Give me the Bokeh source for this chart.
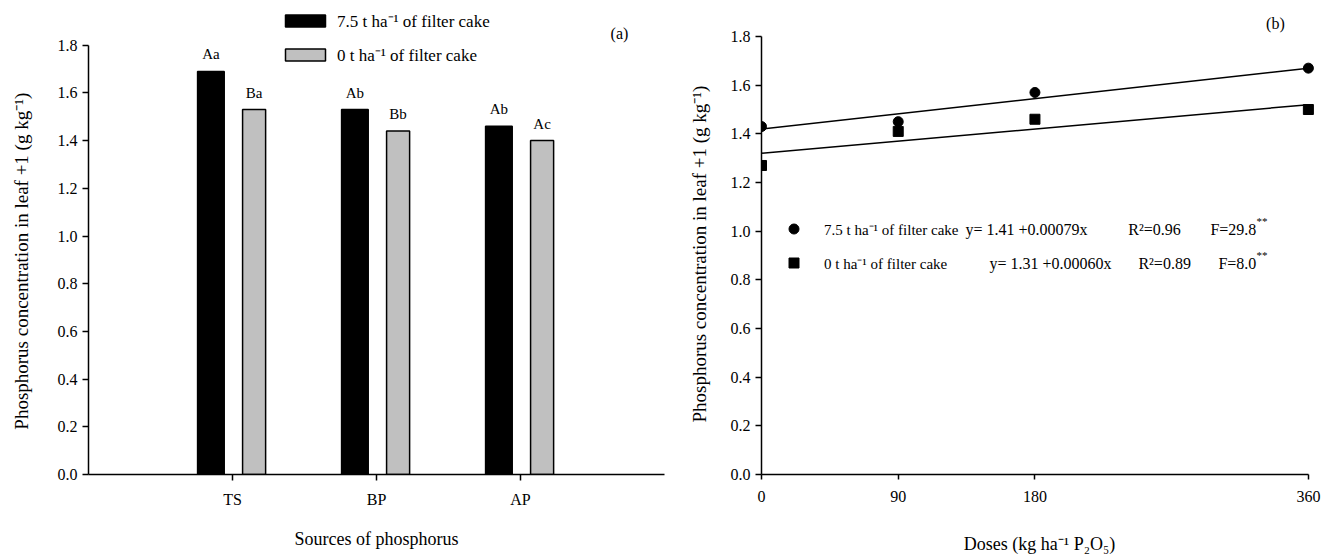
import numpy as np
from bokeh.plotting import figure
from bokeh.layouts import row
from bokeh.models import (FixedTicker, NumeralTickFormatter, Legend, LegendItem,
                          Label, ColumnDataSource, Range1d)
from bokeh.embed import file_html
from bokeh.resources import INLINE
from bokeh.core.properties import value

# ---------------- data ----------------
sources = ["TS", "BP", "AP"]
with_cake = [1.69, 1.53, 1.46]
without_cake = [1.53, 1.44, 1.40]
letters_with = ["Aa", "Ab", "Ab"]
letters_without = ["Ba", "Bb", "Ac"]

doses = [0, 90, 180, 360]
p_with = [1.43, 1.45, 1.57, 1.67]
p_without = [1.27, 1.41, 1.46, 1.50]
fit_x = [0, 360]
fit_with = [1.42, 1.67]
fit_without = [1.32, 1.52]

y_ticks = [0.0, 0.2, 0.4, 0.6, 0.8, 1.0, 1.2, 1.4, 1.6, 1.8]
dose_ticks = [0, 90, 180, 360]

label_with = "7.5 t ha\u207b\u00b9 of filter cake"
label_without = "0 t ha\u207b\u00b9 of filter cake"
eq_with = ["y= 1.41 +0.00079x", "R\u00b2=0.96", "F=29.8", "**"]
eq_without = ["y= 1.31 +0.00060x", "R\u00b2=0.89", "F=8.0", "**"]
y_title = "Phosphorus concentration in leaf +1 (g kg\u207b\u00b9)"

FONT = "Liberation Serif"


def style_axis(ax):
    ax.axis_line_color = "black"
    ax.axis_line_width = 1.5
    ax.major_tick_line_color = "black"
    ax.major_tick_line_width = 1.5
    ax.major_tick_in = 0
    ax.major_tick_out = 6
    ax.minor_tick_line_color = None
    ax.major_label_text_font = FONT
    ax.major_label_text_font_size = "16px"
    ax.major_label_text_color = "black"
    ax.axis_label_text_font = FONT
    ax.axis_label_text_font_size = "18px"
    ax.axis_label_text_font_style = "normal"
    ax.axis_label_text_color = "black"


# ---------------- panel (a) ----------------
p1 = figure(width=680, height=558, x_range=Range1d(-1, 3), y_range=Range1d(0, 1.9875),
            output_backend="svg", toolbar_location=None,
            min_border_left=88, min_border_right=16, min_border_top=0, min_border_bottom=80)
p1.outline_line_color = None
p1.xgrid.grid_line_color = None
p1.ygrid.grid_line_color = None

idx = np.arange(len(sources))
src_w = ColumnDataSource(dict(x=idx - 0.15, top=with_cake, lab=letters_with))
src_o = ColumnDataSource(dict(x=idx + 0.15, top=without_cake, lab=letters_without))
r1 = p1.vbar(x="x", top="top", width=0.185, source=src_w,
             fill_color="black", line_color="black", line_width=1.5)
r2 = p1.vbar(x="x", top="top", width=0.16, source=src_o,
             fill_color="#c0c0c0", line_color="black", line_width=1.5)
for s in (src_w, src_o):
    p1.text(x="x", y="top", text="lab", source=s, text_align="center",
            text_baseline="bottom", y_offset=-9, text_font=value(FONT),
            text_font_size="15px", text_color="black")

xa = p1.xaxis[0]
style_axis(xa)
xa.ticker = FixedTicker(ticks=list(idx))
xa.major_label_overrides = {int(i): s for i, s in zip(idx, sources)}
xa.major_label_standoff = 10
xa.axis_label = "Sources of phosphorus"
xa.axis_label_standoff = 18

ya = p1.yaxis[0]
style_axis(ya)
ya.bounds = (0, 1.8)
ya.ticker = FixedTicker(ticks=y_ticks)
ya.formatter = NumeralTickFormatter(format="0.0")
ya.major_label_standoff = 5
# trailing wide spaces move the centred (rotated) title down to the middle of the 0-1.8 axis
ya.axis_label = y_title + "\u2003\u2003\u2002"
ya.axis_label_text_font_size = "19px"
ya.axis_label_standoff = 23

leg1 = Legend(items=[LegendItem(label=label_with, renderers=[r1]),
                     LegendItem(label=label_without, renderers=[r2])],
              location=(192, 408), padding=0, margin=0, spacing=11,
              glyph_width=50, glyph_height=15, label_height=15, label_standoff=7,
              border_line_color=None, background_fill_alpha=0,
              label_text_font=FONT, label_text_font_size="17px", label_text_color="black")
p1.add_layout(leg1)

p1.add_layout(Label(x=2.6875, y=1.85, text="(a)", text_align="center", text_baseline="middle",
                    text_font=FONT, text_font_size="16px", text_color="black"))

# ---------------- panel (b) ----------------
p2 = figure(width=645, height=558, x_range=Range1d(0, 366), y_range=Range1d(0, 1.948),
            output_backend="svg", toolbar_location=None,
            min_border_left=81, min_border_right=8, min_border_top=0, min_border_bottom=84)
p2.outline_line_color = None
p2.xgrid.grid_line_color = None
p2.ygrid.grid_line_color = None

p2.line(fit_x, fit_with, line_color="black", line_width=1.5)
p2.line(fit_x, fit_without, line_color="black", line_width=1.5)
r3 = p2.scatter(doses, p_with, marker="circle", size=10, color="black")
r4 = p2.scatter(doses, p_without, marker="square", size=10, color="black")

xb = p2.xaxis[0]
style_axis(xb)
xb.bounds = (0, 360)
xb.ticker = FixedTicker(ticks=dose_ticks)
xb.major_tick_out = 5
xb.major_label_standoff = 11
xb.axis_label = "Doses (kg ha\u207b\u00b9 P\u2082O\u2085)"
xb.axis_label_standoff = 29

yb = p2.yaxis[0]
style_axis(yb)
yb.bounds = (0, 1.8)
yb.ticker = FixedTicker(ticks=y_ticks)
yb.formatter = NumeralTickFormatter(format="0.0")
yb.major_label_standoff = 5
yb.axis_label = y_title + "\u2003\u2002\u2005"
yb.axis_label_text_font_size = "19px"
yb.axis_label_standoff = 18

leg2 = Legend(items=[LegendItem(label=label_with, renderers=[r3]),
                     LegendItem(label=label_without, renderers=[r4])],
              location=(20, 199), padding=0, margin=0, spacing=9,
              glyph_width=25, glyph_height=25, label_height=15, label_standoff=18,
              border_line_color=None, background_fill_alpha=0,
              label_text_font=FONT, label_text_font_size="15px", label_text_color="black")
p2.add_layout(leg2)

# equation texts (data coordinates of panel b)
eq_x = [[134.3, 241.5, 295.5, 325.8], [150.1, 248.1, 300.8, 325.8]]
eq_y = [1.007, 0.867]
for texts, xs, yy in zip([eq_with, eq_without], eq_x, eq_y):
    for t, xx in zip(texts, xs):
        sup = t == "**"
        p2.add_layout(Label(x=xx, y=yy + (0.035 if sup else 0), text=t, text_align="left",
                            text_baseline="middle", text_font=FONT,
                            text_font_size="11px" if sup else "16px", text_color="black"))

p2.add_layout(Label(x=338.3, y=1.854, text="(b)", text_align="center", text_baseline="middle",
                    text_font=FONT, text_font_size="16px", text_color="black"))

layout = row(p1, p2)
open("out.html", "w").write(file_html(layout, INLINE))
